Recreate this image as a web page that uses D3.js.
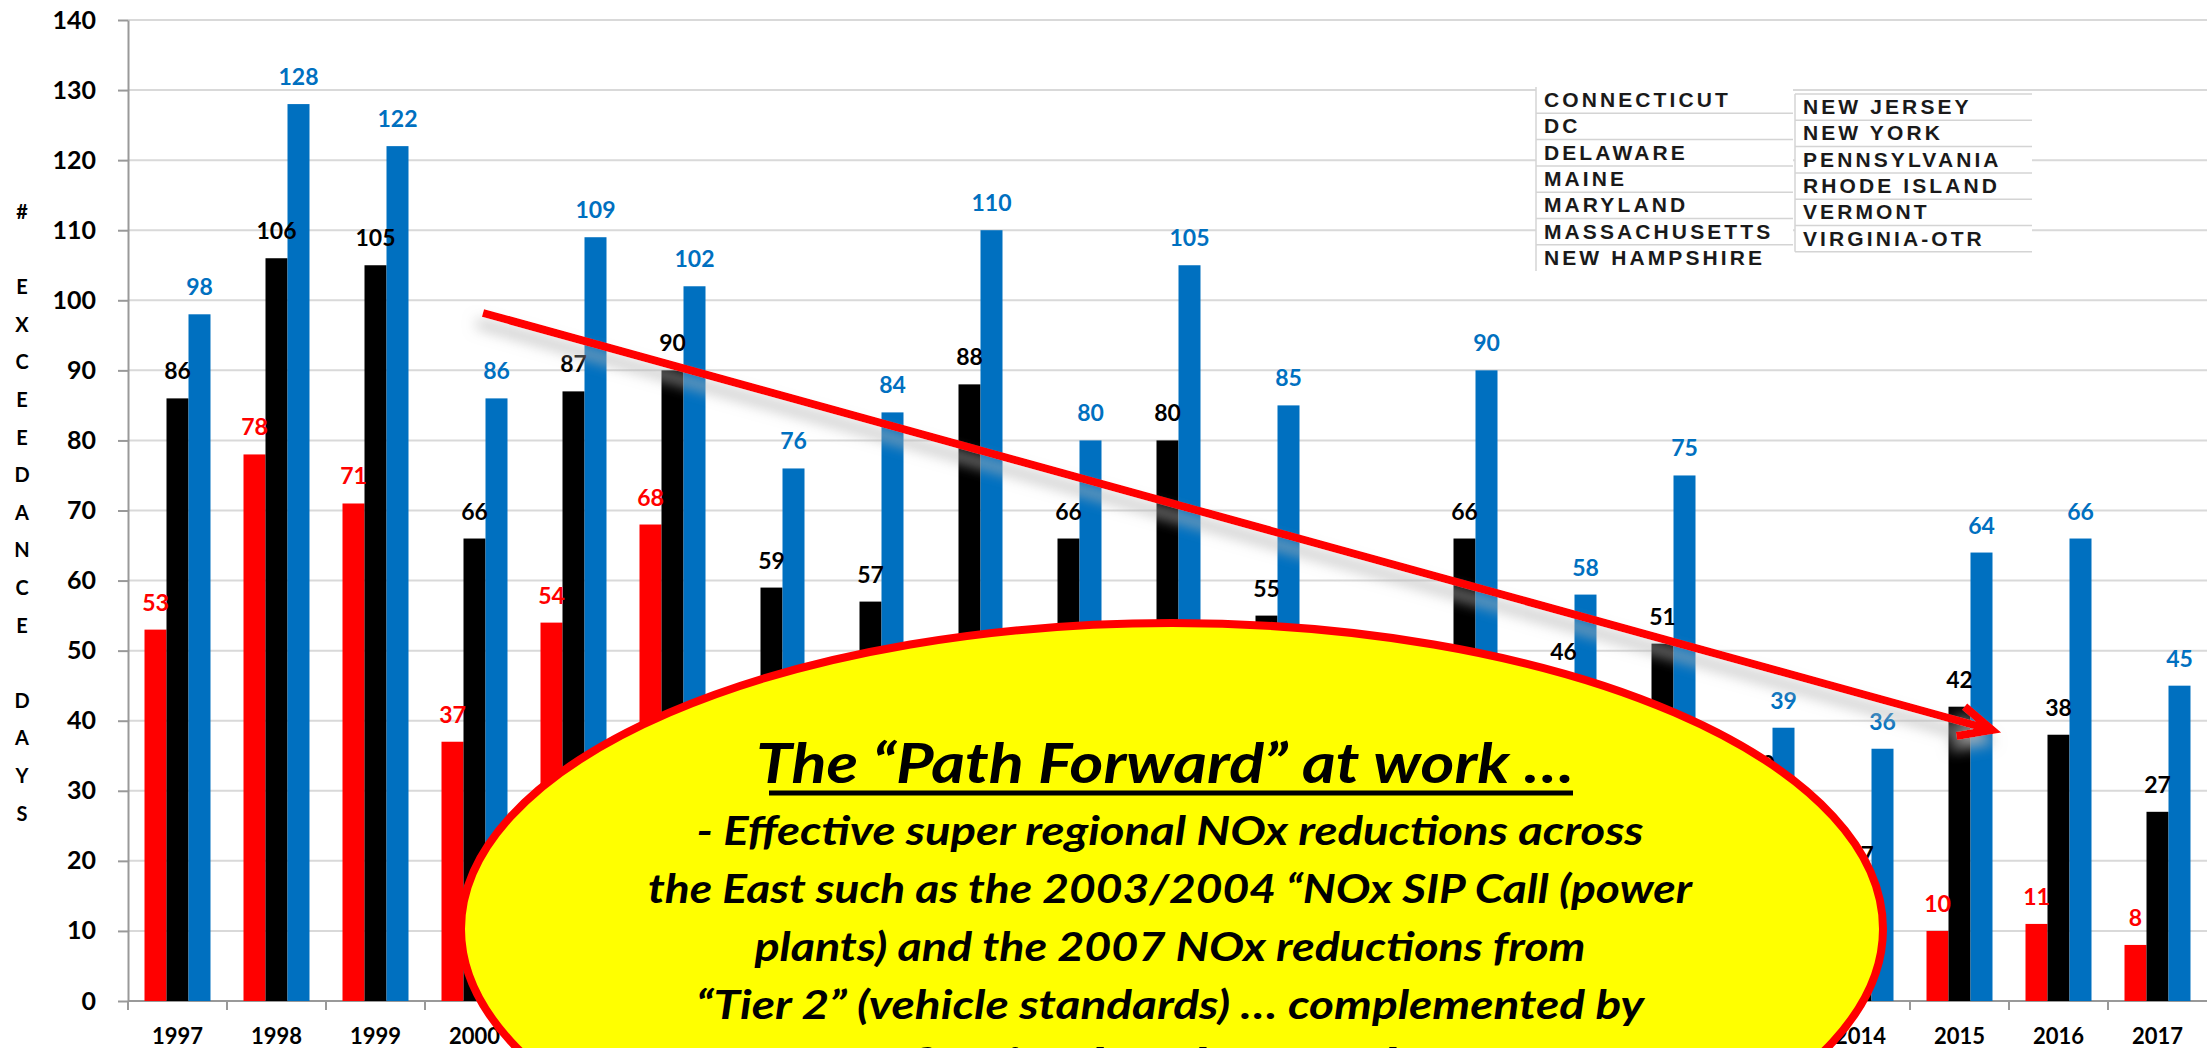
<!DOCTYPE html>
<html>
<head>
<meta charset="utf-8">
<script src="https://cdn.jsdelivr.net/npm/d3@7/dist/d3.min.js"></script>
<style>
  body { margin: 0; background: #fff; }
  svg { display: block; }
</style>
</head>
<body>
<script>
// Ozone exceedance days, 1997 - 2017, three series per year
var years = ["1997","1998","1999","2000","2001","2002","2003","2004","2005","2006",
             "2007","2008","2009","2010","2011","2012","2013","2014","2015","2016","2017"];
var redDays   = [53, 78, 71, 37, 54, 68, 25, 10, 40, 18, 28, 12, 5, 20, 10, 15, 3, 2, 10, 11, 8];
var blackDays = [86, 106, 105, 66, 87, 90, 59, 57, 88, 66, 80, 55, 28, 66, 46, 51, 30, 17, 42, 38, 27];
var blueDays  = [98, 128, 122, 86, 109, 102, 76, 84, 110, 80, 105, 85, 40, 90, 58, 75, 39, 36, 64, 66, 45];
var seriesNames = ["red", "black", "blue"];
var seriesColors = ["#ff0000", "#000000", "#0070c0"];
var yTicks = [0, 10, 20, 30, 40, 50, 60, 70, 80, 90, 100, 110, 120, 130, 140];
var axisTitle = "# EXCEEDANCE DAYS";

// state list box
var statesLeft = ["CONNECTICUT", "DC", "DELAWARE", "MAINE", "MARYLAND", "MASSACHUSETTS", "NEW HAMPSHIRE"];
var statesRight = ["NEW JERSEY", "NEW YORK", "PENNSYLVANIA", "RHODE ISLAND", "VERMONT", "VIRGINIA-OTR"];

// callout text
var noteTitle = "The \u201cPath Forward\u201d at work \u2026";
var noteLines = [
  "- Effective super regional NOx reductions across",
  "the East such as the 2003/2004 \u201cNOx SIP Call (power",
  "plants) and the 2007 NOx reductions from",
  "\u201cTier 2\u201d (vehicle standards) \u2026 complemented by",
  "Effective local controls \u2026"
];

var width = 2207,
    height = 1048;

// callout ellipse geometry (also used to skip texts it fully covers)
var ell = {cx: 1172, cy: 929, rx: 711, ry: 306};
function covered(px, py, halfW, halfH){
  var pts = [[px - halfW, py - halfH], [px + halfW, py - halfH], [px - halfW, py + halfH], [px + halfW, py + halfH]];
  return pts.every(function(p){
    var dx = (p[0] - ell.cx) / (ell.rx - 4), dy = (p[1] - ell.cy) / (ell.ry - 4);
    return dx * dx + dy * dy < 1;
  });
}

var svg = d3.select("body")
    .append("svg")
    .attr("width", width)
    .attr("height", height);

var defs = svg.append("defs");
var shadow = defs.append("filter")
    .attr("id", "arrowShadow")
    .attr("x", "-10%").attr("y", "-50%")
    .attr("width", "120%").attr("height", "200%");
shadow.append("feDropShadow")
    .attr("dx", -6).attr("dy", 10)
    .attr("stdDeviation", 7)
    .attr("flood-color", "#b4b4b4")
    .attr("flood-opacity", 0.9);

// scales
var x = d3.scaleBand()
    .domain(years)
    .range([128, width])
    .padding(0);

var xSub = d3.scaleBand()
    .domain(seriesNames)
    .range([0, x.bandwidth()])
    .paddingInner(0)
    .paddingOuter(0.75);

var y = d3.scaleLinear()
    .domain([0, 140])
    .range([1001, 20]);

// gridlines
svg.append("g")
  .selectAll("line")
  .data(yTicks.slice(1))
  .enter()
  .append("line")
    .attr("x1", 128).attr("x2", width)
    .attr("y1", function(d){ return y(d); })
    .attr("y2", function(d){ return y(d); })
    .attr("stroke", "#d9d9d9")
    .attr("stroke-width", 2);

// y axis
var yAxis = svg.append("g")
    .attr("transform", "translate(128,0)")
    .call(d3.axisLeft(y).tickValues(yTicks).tickSize(10).tickPadding(22).tickSizeOuter(0));
yAxis.select(".domain").attr("stroke", "#999").attr("stroke-width", 2);
yAxis.selectAll(".tick line").attr("stroke", "#999").attr("stroke-width", 2);
yAxis.selectAll(".tick text")
    .attr("font-family", "Lato, sans-serif")
    .attr("font-weight", "bold")
    .attr("font-size", 25)
    .attr("fill", "#000");

// x axis: line, ticks at category edges, year labels
var xAxis = svg.append("g");
xAxis.append("line")
    .attr("x1", 128).attr("x2", width)
    .attr("y1", y(0)).attr("y2", y(0))
    .attr("stroke", "#999").attr("stroke-width", 2);
xAxis.selectAll(".xtick")
  .data(years)
  .enter()
  .append("line")
    .attr("class", "xtick")
    .attr("x1", function(d){ return x(d); })
    .attr("x2", function(d){ return x(d); })
    .attr("y1", y(0)).attr("y2", y(0) + 9)
    .attr("stroke", "#999").attr("stroke-width", 2);
xAxis.selectAll(".xlab")
  .data(years.filter(function(d){ return !covered(x(d) + x.bandwidth() / 2, 1036, 26, 8); }))
  .enter()
  .append("text")
    .attr("class", "xlab")
    .attr("x", function(d){ return x(d) + x.bandwidth() / 2; })
    .attr("y", 1044)
    .attr("text-anchor", "middle")
    .attr("font-family", "Lato, sans-serif")
    .attr("font-weight", "bold")
    .attr("font-size", 22)
    .text(function(d){ return d; });

// stacked vertical axis title
svg.append("g")
  .selectAll("text")
  .data(axisTitle.split(""))
  .enter()
  .append("text")
    .attr("x", 22)
    .attr("y", function(d, i){ return 219 + i * 37.6; })
    .attr("text-anchor", "middle")
    .attr("font-family", "Lato, sans-serif")
    .attr("font-weight", "bold")
    .attr("font-size", 20)
    .text(function(d){ return d; });

// bars
var seriesData = [redDays, blackDays, blueDays];
function rows(d, i){
  return seriesData[i].map(function(v, j){ return {year: years[j], value: v, s: d}; });
}

var groups = svg.selectAll(".series")
  .data(seriesNames)
  .enter()
  .append("g")
    .attr("class", "series")
    .attr("fill", function(d, i){ return seriesColors[i]; });

groups.selectAll("rect")
  .data(rows)
  .enter()
  .append("rect")
    .attr("x", function(d){ return x(d.year) + xSub(d.s); })
    .attr("width", xSub.bandwidth())
    .attr("y", function(d){ return y(d.value); })
    .attr("height", function(d){ return y(0) - y(d.value); });

// value labels (the ones hidden under the callout are left out)
var labels = svg.selectAll(".labels")
  .data(seriesNames)
  .enter()
  .append("g")
    .attr("class", "labels")
    .attr("fill", function(d, i){ return seriesColors[i]; });

labels.selectAll("text")
  .data(function(d, i){
    return rows(d, i).filter(function(r){
      var cx = x(r.year) + xSub(r.s) + xSub.bandwidth() / 2;
      return !covered(cx, y(r.value) - 27, r.value > 99 ? 20 : 13, 8);
    });
  })
  .enter()
  .append("text")
    .attr("x", function(d){ return x(d.year) + xSub(d.s) + xSub.bandwidth() / 2; })
    .attr("y", function(d){ return y(d.value) - 19; })
    .attr("text-anchor", "middle")
    .attr("font-family", "Lato, sans-serif")
    .attr("font-weight", "bold")
    .attr("font-size", 23)
    .text(function(d){ return d.value; });

// list of states
function stateColumn(names, left, top, w, rowH, topLine){
  var g = svg.append("g");
  g.append("rect")
      .attr("x", left).attr("y", top)
      .attr("width", w).attr("height", names.length * rowH)
      .attr("fill", "#fff");
  g.append("line")
      .attr("x1", left).attr("x2", left)
      .attr("y1", top).attr("y2", top + names.length * rowH)
      .attr("stroke", "#d4d4d4").attr("stroke-width", 1.5);
  var seps = d3.range(topLine ? 0 : 1, topLine ? names.length + 1 : names.length);
  g.selectAll(".sep")
    .data(seps)
    .enter()
    .append("line")
      .attr("x1", left).attr("x2", left + w)
      .attr("y1", function(d){ return top + d * rowH; })
      .attr("y2", function(d){ return top + d * rowH; })
      .attr("stroke", "#d4d4d4").attr("stroke-width", 1.5);
  g.selectAll("text")
    .data(names)
    .enter()
    .append("text")
      .attr("x", left + 8)
      .attr("y", function(d, i){ return top + i * rowH + 20; })
      .attr("font-family", "'Liberation Sans', Arial, sans-serif")
      .attr("font-weight", "bold")
      .attr("font-size", 21)
      .attr("letter-spacing", 3.1)
      .attr("fill", "#1a1a1a")
      .text(function(d){ return d; });
}
stateColumn(statesLeft, 1536, 87, 257, 26.3, false);
stateColumn(statesRight, 1795, 94, 237, 26.3, true);

// yellow callout
var callout = svg.append("g");
callout.append("ellipse")
    .attr("cx", ell.cx).attr("cy", ell.cy)
    .attr("rx", ell.rx).attr("ry", ell.ry)
    .attr("fill", "#ffff00")
    .attr("stroke", "#ff0000")
    .attr("stroke-width", 8);

callout.append("text")
    .attr("x", 1165).attr("y", 783)
    .attr("text-anchor", "middle")
    .attr("font-family", "Lato, sans-serif")
    .attr("font-weight", "bold")
    .attr("font-style", "italic")
    .attr("font-size", 56)
    .attr("textLength", 818)
    .attr("lengthAdjust", "spacingAndGlyphs")
    .text(noteTitle);
callout.append("line")
    .attr("x1", 769).attr("x2", 1573)
    .attr("y1", 793).attr("y2", 793)
    .attr("stroke", "#000").attr("stroke-width", 5);

var noteWidths = [947, 1044, 831, 948, 620];
var noteBase = [845, 903, 961, 1019, 1077];
callout.selectAll(".note")
  .data(noteLines)
  .enter()
  .append("text")
    .attr("class", "note")
    .attr("x", 1170)
    .attr("y", function(d, i){ return noteBase[i]; })
    .attr("text-anchor", "middle")
    .attr("font-family", "Lato, sans-serif")
    .attr("font-weight", "bold")
    .attr("font-style", "italic")
    .attr("font-size", 40)
    .attr("textLength", function(d, i){ return noteWidths[i]; })
    .attr("lengthAdjust", "spacingAndGlyphs")
    .text(function(d){ return d; });

// trend arrow
var arrowFrom = [483, 313],
    arrowTo = [1992, 730];
var ang = Math.atan2(arrowTo[1] - arrowFrom[1], arrowTo[0] - arrowFrom[0]);
var armLen = 36, armAng = 25 * Math.PI / 180;
var armA = [arrowTo[0] - armLen * Math.cos(ang - armAng), arrowTo[1] - armLen * Math.sin(ang - armAng)],
    armB = [arrowTo[0] - armLen * Math.cos(ang + armAng), arrowTo[1] - armLen * Math.sin(ang + armAng)];

var arrow = svg.append("g").attr("filter", "url(#arrowShadow)");
arrow.append("path")
    .attr("d", d3.line()([arrowFrom, arrowTo]) + "M" + armA + "L" + arrowTo + "L" + armB)
    .attr("fill", "none")
    .attr("stroke", "#ff0000")
    .attr("stroke-width", 8)
    .attr("stroke-linejoin", "miter");
</script>
</body>
</html>
